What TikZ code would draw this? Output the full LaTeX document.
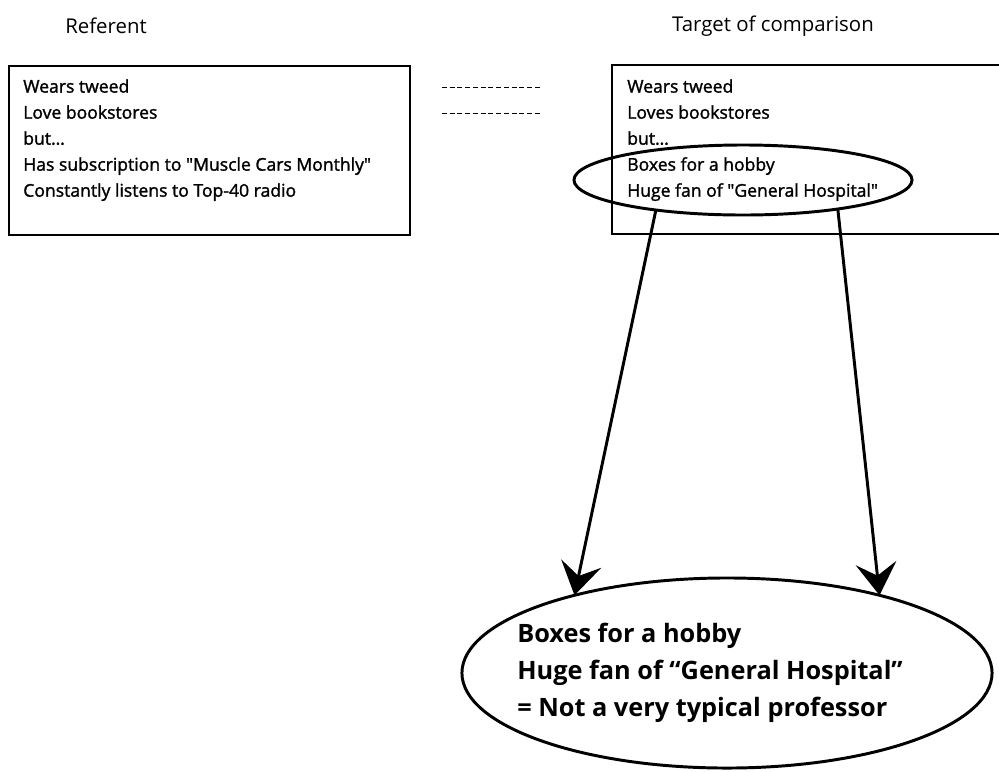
\documentclass[tikz,border=0pt]{standalone}
\usepackage{fontspec}
\setmainfont{Open Sans}
\newfontfamily\listfont[FakeBold=1.5]{Open Sans}
\usetikzlibrary{arrows.meta, shapes.geometric}

\begin{document}
\begin{tikzpicture}[x=0.025cm, y=-0.025cm,
    boxline/.style={line width=1pt},
    dashline/.style={line width=0.7pt, dash pattern=on 3.5pt off 2pt},
    titletext/.style={font=\fontsize{14.5}{17}\selectfont},
    listtext/.style={anchor=north west, inner sep=0pt, align=left,
      font=\listfont\fontsize{12.5}{18.5}\selectfont},
    ring/.style={ellipse, draw, line width=2.1pt, outer sep=0pt, inner sep=0pt},
    arr/.style={line width=2.1pt, -{Stealth[length=23pt, width=29pt, inset=9pt]}}]
  \useasboundingbox (0,0) rectangle (999,771);
  % column titles
  \node[titletext] (reftitle) at (106,26) {Referent};
  \node[titletext] (tgttitle) at (773,26) {Target of comparison};
  % the two lists
  \draw[boxline] (9,66) rectangle (410,235);
  \draw[boxline] (612,65) rectangle (1010,234);
  \node[listtext] (reflist) at (23,79) {Wears tweed\\Love bookstores\\but…\\%
    Has subscription to \textquotedbl Muscle Cars Monthly\textquotedbl\\%
    Constantly listens to Top-40 radio};
  \node[listtext] (tgtlist) at (627,79) {Wears tweed\\Loves bookstores\\but…\\%
    Boxes for a hobby\\Huge fan of \textquotedbl General Hospital\textquotedbl};
  % matching traits
  \draw[dashline] (442,87) -- (540,87);
  \draw[dashline] (442,113) -- (540,113);
  % odd traits and conclusion
  \node[ring, minimum width=8.45cm, minimum height=1.75cm] (hl) at (743,180) {};
  \node[ring, minimum width=13.25cm, minimum height=4.75cm] (concl) at (727,673) {};
  \node[anchor=west, inner sep=0pt, align=left,
    font=\bfseries\fontsize{18}{26.5}\selectfont] (concltext) at (517,673)
    {Boxes for a hobby\\Huge fan of “General Hospital”\\= Not a very typical professor};
  \draw[arr] (hl.199) -- (concl.153);
  \draw[arr] (hl.343) -- (concl.27);
\end{tikzpicture}
\end{document}
